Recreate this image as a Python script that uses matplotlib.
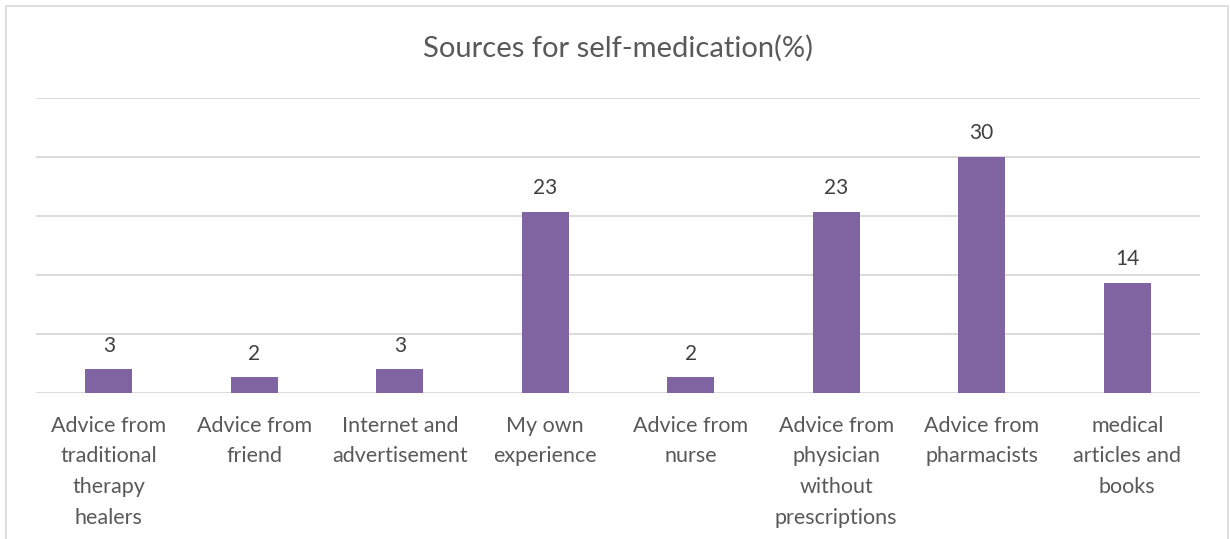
import matplotlib.pyplot as plt
from matplotlib.patches import Rectangle

# data
categories = ["Advice from\ntraditional\ntherapy\nhealers", "Advice from\nfriend",
              "Internet and\nadvertisement", "My own\nexperience", "Advice from\nnurse",
              "Advice from\nphysician\nwithout\nprescriptions", "Advice from\npharmacists",
              "medical\narticles and\nbooks"]
values = [3, 2, 3, 23, 2, 23, 30, 14]

plt.rcParams['font.family'] = ['Lato', 'DejaVu Sans']
txt = '#595959'
grid = '#D9D9D9'
purple = '#8064A2'

fig = plt.figure(figsize=(12.3, 5.39), dpi=100)
ax = fig.add_axes([36/1230, 1-393/539, 1164/1230, 295/539])

x = range(len(values))
ax.bar(x, values, width=0.32, color=purple, zorder=3)
for i, v in enumerate(values):
    ax.text(i, v + 3.0, str(v), ha='center', va='center', fontsize=15, color='#404040')

ax.set_xlim(-0.5, len(values) - 0.5)
ax.set_ylim(0, 37.5)
ax.set_yticks([0, 7.5, 15, 22.5, 30, 37.5])
ax.yaxis.grid(True, color=grid, linewidth=1.3)
ax.tick_params(axis='y', left=False, labelleft=False)
ax.tick_params(axis='x', bottom=False, pad=13)
ax.set_xticks(list(x))
ax.set_xticklabels(categories, fontsize=15.5, color=txt, linespacing=1.66, va='top')
for s in ax.spines.values():
    s.set_visible(False)

fig.text(618/1230, 1-48/539, "Sources for self-medication(%)", ha='center', va='center',
         fontsize=21, color=txt)

# outer chart border
fig.patches.append(Rectangle((6/1230, -0.01), 1222/1230, 1-6/539+0.01, transform=fig.transFigure,
                             fill=False, edgecolor=grid, linewidth=1.2))

fig.savefig('out.png', dpi=100)
